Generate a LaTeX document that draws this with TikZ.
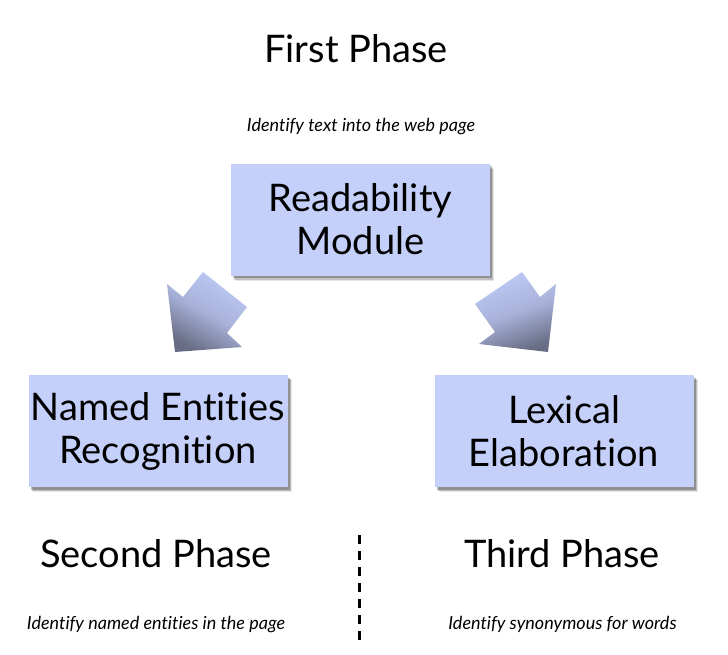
\documentclass[tikz,border=0pt]{standalone}
\usepackage{fontspec}
\setmainfont{Lato}[Ligatures={NoCommon}]
\usetikzlibrary{shadows}
\definecolor{boxfill}{RGB}{196,208,249}
\definecolor{arrlight}{RGB}{190,202,246}
\definecolor{arrdark}{RGB}{104,108,132}
\tikzset{
  phasebox/.style={rectangle, fill=boxfill, minimum width=259pt, minimum height=112pt,
    inner sep=0pt, align=center, font=\fontsize{38}{43}\selectfont,
    general shadow={shadow xshift=4pt, shadow yshift=-5pt, fill=black, opacity=0.10},
    general shadow={shadow xshift=3pt, shadow yshift=-4pt, fill=black, opacity=0.16},
    general shadow={shadow xshift=2pt, shadow yshift=-2.5pt, fill=black, opacity=0.25}},
  phasetitle/.style={anchor=base, inner sep=0pt, font=\fontsize{38}{43}\selectfont},
  phasecaption/.style={anchor=base, inner sep=0pt, font=\fontsize{18}{21}\selectfont\itshape},
  blockarrow/.style={top color=arrlight, bottom color=arrdark, middle color=arrlight!75!arrdark},
  divider/.style={line width=3pt, dash pattern=on 9pt off 7pt}
}
\begin{document}
\begin{tikzpicture}[x=1pt,y=-1pt]
\useasboundingbox (0,0) rectangle (728,654);
\node[phasetitle] (first) at (356,62) {First Phase};
\node[phasecaption] (firstcap) at (361,131) {Identify text into the web page};
\node[phasebox] (read) at (360.5,219.5) {Readability\\Module};
\node[phasebox] (ner) at (158,431) {Named Entities\\Recognition};
\node[phasebox] (lex) at (564,431) {Lexical\\Elaboration};
\node[phasetitle] (second) at (156,567) {Second Phase};
\node[phasetitle] (third) at (562,567) {Third Phase};
\node[phasecaption] (secondcap) at (156,629) {Identify named entities in the page};
\node[phasecaption] (thirdcap) at (562.5,629) {Identify synonymous for words};
% block arrows
\shade[blockarrow, shading angle=-30] (203,272) -- (247,307) -- (227,333) -- (242,347)
  -- (175,352) -- (167,284) -- (183,297) -- cycle;
\shade[blockarrow, shading angle=20] (522,272) -- (475,304) -- (495,332) -- (479,344)
  -- (548,352) -- (556,284) -- (540,297) -- cycle;
% divider
\coordinate (dtop) at (359,535);
\coordinate (dbot) at (359,645);
\draw[divider] (dtop) -- (dbot);
\end{tikzpicture}
\end{document}
